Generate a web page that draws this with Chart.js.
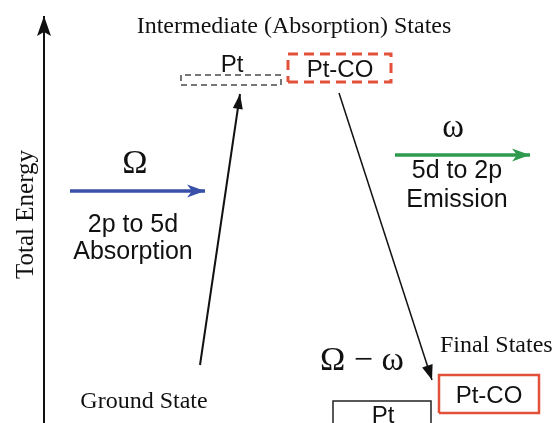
<!DOCTYPE html>
<html>
<head>
<meta charset="utf-8">
<script src="https://cdn.jsdelivr.net/npm/chart.js@4/dist/chart.umd.min.js"></script>
<style>
  html, body { margin: 0; padding: 0; background: #fff; }
  canvas { display: block; }
</style>
</head>
<body>
<canvas id="chart" width="557" height="423"></canvas>
<script>
// states: two intermediate (absorption) levels and two final levels
let stateNames = ['Pt', 'Pt-CO', 'Pt-CO', 'Pt'];
let stateLeft = [181, 288, 439, 333];
let stateRight = [281, 391, 539, 431];
let stateLow = [338, 341, 10, -12];
let stateHigh = [348, 369, 48, 22];

// transitions between states, [position, energy]
let transitionFrom = [[200, 58], [339, 330]];
let transitionTo = [[240, 329], [432, 43]];

// photons: incoming Ω and outgoing ω
let photonNames = ['Ω', 'ω'];
let photonStart = [70, 395];
let photonEnd = [205, 530];
let photonLevel = [232, 268];

// energy axis
let axisPos = 44;
let axisRange = [-5, 407];

let serif = 'Liberation Serif';
let sans = 'Liberation Sans';
let red = '#e4513b';

let boxData = (i) => [
  {x: stateLeft[i], y: stateLow[i]},
  {x: stateRight[i], y: stateLow[i]},
  {x: stateRight[i], y: stateHigh[i]},
  {x: stateLeft[i], y: stateHigh[i]},
  {x: stateLeft[i], y: stateLow[i]},
];

let boxStyles = [
  {borderColor: '#4a4a4a', borderWidth: 1.5, borderDash: [6, 4]},
  {borderColor: red, borderWidth: 3, borderDash: [10, 6]},
  {borderColor: red, borderWidth: 2.5, borderDash: []},
  {borderColor: '#222', borderWidth: 1.5, borderDash: []},
];

let datasets = [];

datasets.push({
  label: 'Total Energy',
  data: [{x: axisPos, y: axisRange[0]}, {x: axisPos, y: axisRange[1] - 12}, {x: axisPos, y: axisRange[1]}],
  showLine: true,
  pointRadius: 0,
  borderColor: '#111',
  borderWidth: 2,
  clip: false,
  head: {len: 20, half: 7, notch: 4},
});

stateNames.forEach((name, i) => {
  datasets.push(Object.assign({
    label: name,
    data: boxData(i),
    showLine: true,
    pointRadius: 0,
    fill: false,
  }, boxStyles[i]));
});

transitionFrom.forEach((p, i) => {
  datasets.push({
    label: 'transition ' + i,
    data: [{x: p[0], y: p[1]}, {x: transitionTo[i][0], y: transitionTo[i][1]}],
    showLine: true,
    pointRadius: 0,
    borderColor: '#111',
    borderWidth: i === 0 ? 2 : 1.5,
    head: {len: 15, half: i === 0 ? 5 : 5.5, notch: 0},
  });
});

let photonColors = ['#3a50a8', '#2e9a4e'];
photonNames.forEach((name, i) => {
  datasets.push({
    label: name,
    data: [{x: photonStart[i], y: photonLevel[i]}, {x: photonEnd[i] - 8, y: photonLevel[i]}, {x: photonEnd[i], y: photonLevel[i]}],
    showLine: true,
    pointRadius: 0,
    borderColor: photonColors[i],
    borderWidth: 3.5,
    head: {len: 18, half: 6.5, notch: 5},
  });
});

// text placed in chart units (x, energy)
let labels = [
  {text: 'Intermediate (Absorption) States', x: 294, y: 390, font: '24px ' + serif, align: 'center'},
  {text: 'Pt', x: 232, y: 351, font: '24px ' + sans, align: 'center'},
  {text: 'Pt-CO', x: 340, y: 346, font: '24px ' + sans, align: 'center'},
  {text: 'Ω', x: 135, y: 250, font: '34px ' + serif, align: 'center'},
  {text: '2p to 5d', x: 133, y: 191, font: '25px ' + sans, align: 'center'},
  {text: 'Absorption', x: 133, y: 164, font: '25px ' + sans, align: 'center'},
  {text: 'ω', x: 453, y: 286, font: '33px ' + serif, align: 'center'},
  {text: '5d to 2p', x: 457, y: 245, font: '25px ' + sans, align: 'center'},
  {text: 'Emission', x: 457, y: 216, font: '25px ' + sans, align: 'center'},
  {text: 'Final States', x: 440, y: 71, font: '24px ' + serif, align: 'left'},
  {text: 'Ω − ω', x: 362, y: 53, font: '34px ' + serif, align: 'center'},
  {text: 'Pt-CO', x: 489, y: 20, font: '24px ' + sans, align: 'center'},
  {text: 'Pt', x: 383, y: 0, font: '24px ' + sans, align: 'center'},
  {text: 'Ground State', x: 144, y: 15, font: '24px ' + serif, align: 'center'},
];

let drawHead = (ctx, ax, ay, bx, by, len, half, notch, color) => {
  let angle = Math.atan2(by - ay, bx - ax);
  ctx.save();
  ctx.translate(bx, by);
  ctx.rotate(angle);
  ctx.beginPath();
  ctx.moveTo(0, 0);
  ctx.lineTo(-len, -half);
  ctx.lineTo(-len + notch, 0);
  ctx.lineTo(-len, half);
  ctx.closePath();
  ctx.fillStyle = color;
  ctx.fill();
  ctx.restore();
};

let diagramPlugin = {
  id: 'diagram',
  afterDraw: (chart) => {
    let ctx = chart.ctx;
    let xs = chart.scales.x;
    let ys = chart.scales.y;

    chart.data.datasets.forEach((ds, i) => {
      if (!ds.head) return;
      let pts = chart.getDatasetMeta(i).data;
      let a = pts[pts.length - 2];
      let b = pts[pts.length - 1];
      drawHead(ctx, a.x, a.y, b.x, b.y, ds.head.len, ds.head.half, ds.head.notch, ds.borderColor);
    });

    ctx.save();
    ctx.fillStyle = '#111';
    ctx.textBaseline = 'alphabetic';
    labels.forEach((l) => {
      ctx.font = l.font;
      ctx.textAlign = l.align;
      ctx.fillText(l.text, xs.getPixelForValue(l.x), ys.getPixelForValue(l.y));
    });
    ctx.restore();
  },
};

let chart = new Chart(document.getElementById('chart'), {
  type: 'scatter',
  data: {datasets: datasets},
  options: {
    responsive: false,
    animation: false,
    devicePixelRatio: 1,
    layout: {padding: {top: 6, right: 0, bottom: 0, left: 0}},
    elements: {line: {tension: 0}},
    plugins: {
      legend: {display: false},
      tooltip: {enabled: false},
    },
    scales: {
      x: {type: 'linear', min: 44, max: 557, display: false},
      y: {
        type: 'linear',
        min: 0,
        max: 417,
        grid: {display: false},
        ticks: {display: false},
        border: {display: false},
        title: {
          display: true,
          text: 'Total Energy',
          color: '#111',
          font: {family: serif, size: 25},
          padding: {top: 11, bottom: 0},
        },
        afterFit: (scale) => { scale.width = 44; },
      },
    },
  },
  plugins: [diagramPlugin],
});
</script>
</body>
</html>
